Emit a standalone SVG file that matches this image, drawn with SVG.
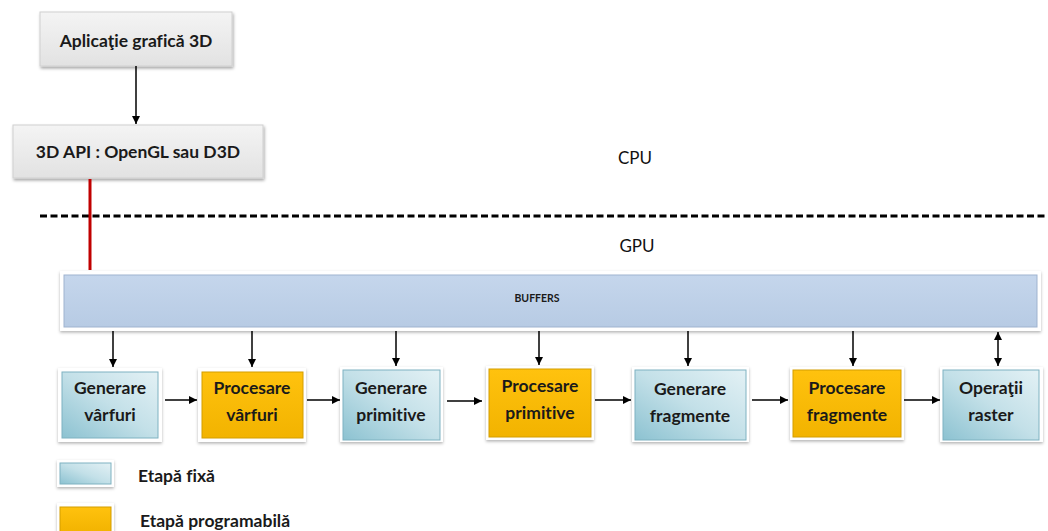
<svg xmlns="http://www.w3.org/2000/svg" width="1048" height="531" viewBox="0 0 1048 531">
<defs>
<filter id="sh" x="-20%" y="-20%" width="140%" height="150%">
<feDropShadow dx="1" dy="2" stdDeviation="1.5" flood-color="#000" flood-opacity="0.35"/>
</filter>
<filter id="sh2" x="-20%" y="-20%" width="140%" height="150%">
<feDropShadow dx="0" dy="1.5" stdDeviation="1.5" flood-color="#000" flood-opacity="0.3"/>
</filter>
<linearGradient id="gray" x1="0" y1="0" x2="0" y2="1">
<stop offset="0" stop-color="#f4f4f4"/>
<stop offset="1" stop-color="#e2e2e2"/>
</linearGradient>
<linearGradient id="fix" x1="1" y1="0" x2="0" y2="1">
<stop offset="0" stop-color="#e3f1f5"/>
<stop offset="0.5" stop-color="#c3e0e8"/>
<stop offset="1" stop-color="#8cc2d1"/>
</linearGradient>
<linearGradient id="prog" x1="0" y1="0" x2="0" y2="1">
<stop offset="0" stop-color="#ffc20e"/>
<stop offset="1" stop-color="#f2b300"/>
</linearGradient>
<linearGradient id="buf" x1="0" y1="0" x2="0" y2="1">
<stop offset="0" stop-color="#c5d6ec"/>
<stop offset="1" stop-color="#b7cbe4"/>
</linearGradient>
<marker id="ah" viewBox="0 0 10 10" refX="10" refY="5" markerWidth="8" markerHeight="8" markerUnits="userSpaceOnUse" orient="auto-start-reverse">
<path d="M0,0 L10,5 L0,10 z" fill="#000"/>
</marker>
<style>
text{font-variant-ligatures:none}
.t{font-family:Lato,"Liberation Sans",Arial,sans-serif;font-weight:bold;font-size:17.5px;fill:#1a1a1a;text-anchor:middle}
.tl{font-family:Lato,"Liberation Sans",Arial,sans-serif;font-weight:bold;font-size:17.5px;fill:#1a1a1a}
.lab{font-family:Lato,"Liberation Sans",Arial,sans-serif;font-size:17px;fill:#111;text-anchor:middle}
.frame{fill:#fff;filter:url(#sh2)}
.fix{fill:url(#fix);stroke:#7fb2c1;stroke-width:1}
.prog{fill:url(#prog);stroke:#d49e00;stroke-width:1}
.top{fill:url(#gray);stroke:#d0d0d0;stroke-width:1;filter:url(#sh)}
.c{stroke:#000;stroke-width:1.5;fill:none;marker-end:url(#ah)}
</style>
</defs>
<rect width="1048" height="531" fill="#fff"/>

<g id="app">
<rect class="top" x="40" y="12" width="192" height="54"/>
<text class="t" x="136" y="47">Aplicaţie grafică 3D</text>
</g>
<g id="api">
<rect class="top" x="13" y="125" width="250" height="53"/>
<text class="t" x="138" y="158">3D API : OpenGL sau D3D</text>
</g>

<g id="labels">
<text class="lab" x="635" y="164">CPU</text>
<text class="lab" x="637" y="252">GPU</text>
<line x1="40" y1="216" x2="1048" y2="216" stroke="#000" stroke-width="3" stroke-dasharray="7,3.5"/>
</g>

<g id="buffers">
<rect class="frame" x="60" y="271" width="981" height="60"/>
<rect x="64" y="275" width="973" height="52" fill="url(#buf)" stroke="#9fb3cf" stroke-width="1"/>
<text x="537" y="302" font-family="Lato, Liberation Sans, Arial, sans-serif" font-weight="bold" font-size="10.5" fill="#1a1a1a" text-anchor="middle">BUFFERS</text>
</g>

<g id="s1">
<rect class="frame" x="58" y="368" width="104" height="74"/>
<rect class="fix" x="62" y="372" width="96" height="66"/>
<text class="t" x="110" y="394">Generare</text>
<text class="t" x="110" y="421">vârfuri</text>
</g>
<g id="s2">
<rect class="frame" x="198" y="368" width="108" height="74"/>
<rect class="prog" x="202" y="372" width="101" height="66"/>
<text class="t" x="252" y="394">Procesare</text>
<text class="t" x="252" y="421">vârfuri</text>
</g>
<g id="s3">
<rect class="frame" x="340" y="367" width="103" height="75"/>
<rect class="fix" x="343" y="370" width="97" height="70"/>
<text class="t" x="391" y="394">Generare</text>
<text class="t" x="391" y="421">primitive</text>
</g>
<g id="s4">
<rect class="frame" x="486" y="366" width="108" height="74"/>
<rect class="prog" x="489" y="369" width="102" height="68"/>
<text class="t" x="540" y="392">Procesare</text>
<text class="t" x="540" y="419">primitive</text>
</g>
<g id="s5">
<rect class="frame" x="632" y="367" width="117" height="75"/>
<rect class="fix" x="635" y="370" width="111" height="70"/>
<text class="t" x="690" y="395">Generare</text>
<text class="t" x="690" y="422">fragmente</text>
</g>
<g id="s6">
<rect class="frame" x="790" y="367" width="114" height="73"/>
<rect class="prog" x="793" y="370" width="108" height="67"/>
<text class="t" x="847" y="394">Procesare</text>
<text class="t" x="847" y="421">fragmente</text>
</g>
<g id="s7">
<rect class="frame" x="940" y="367" width="103" height="75"/>
<rect class="fix" x="943" y="370" width="96" height="70"/>
<text class="t" x="991" y="394">Operaţii</text>
<text class="t" x="991" y="421">raster</text>
</g>

<g id="legend">
<rect class="frame" x="57" y="460" width="57" height="27"/>
<rect class="fix" x="60" y="463" width="51" height="21"/>
<text class="tl" x="138" y="482">Etapă fixă</text>
<rect class="frame" x="57" y="503" width="57" height="30"/>
<rect class="prog" x="60" y="507" width="51" height="26"/>
<text class="tl" x="140" y="527">Etapă programabilă</text>
</g>

<g id="connectors">
<line class="c" x1="136" y1="66" x2="136" y2="124"/>
<line x1="90" y1="179" x2="90" y2="270" stroke="#c00000" stroke-width="3"/>
<line class="c" x1="113" y1="331" x2="113" y2="367"/>
<line class="c" x1="252" y1="331" x2="252" y2="367"/>
<line class="c" x1="396" y1="331" x2="396" y2="366"/>
<line class="c" x1="539" y1="331" x2="539" y2="365"/>
<line class="c" x1="688" y1="331" x2="688" y2="366"/>
<line class="c" x1="853" y1="331" x2="853" y2="366"/>
<line class="c" x1="998" y1="332" x2="998" y2="366" marker-start="url(#ah)"/>
<line class="c" x1="165" y1="400" x2="197" y2="400"/>
<line class="c" x1="307" y1="400" x2="340" y2="400"/>
<line class="c" x1="447" y1="401" x2="482" y2="401"/>
<line class="c" x1="595" y1="400" x2="631" y2="400"/>
<line class="c" x1="752" y1="400" x2="788" y2="400"/>
<line class="c" x1="904" y1="400" x2="940" y2="400"/>
</g>
</svg>
